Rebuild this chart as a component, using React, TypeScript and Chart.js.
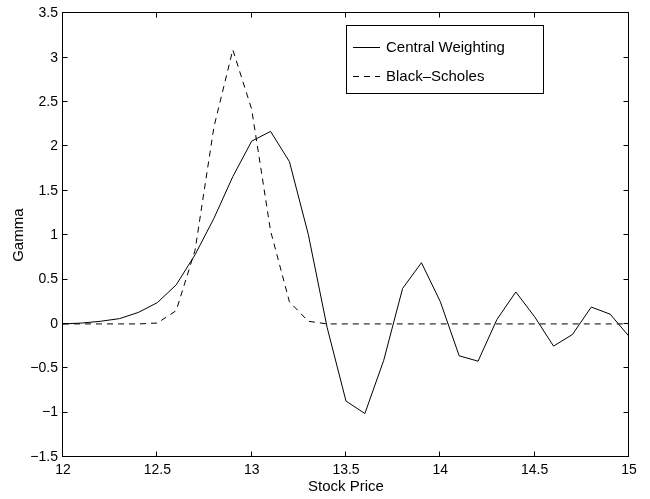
import React, { useEffect, useRef } from "react";
import { Chart, registerables } from "chart.js";

Chart.register(...registerables);

const stockPrices = [
  12.0, 12.1, 12.2, 12.3, 12.4, 12.5, 12.6, 12.7, 12.8, 12.9, 13.0,
  13.1, 13.2, 13.3, 13.4, 13.5, 13.6, 13.7, 13.8, 13.9, 14.0,
  14.1, 14.2, 14.3, 14.4, 14.5, 14.6, 14.7, 14.8, 14.9, 15.0,
];

const centralWeighting = [
  0.0, 0.01, 0.03, 0.06, 0.13, 0.24, 0.44, 0.78, 1.19, 1.66, 2.06,
  2.17, 1.83, 1.01, -0.04, -0.87, -1.01, -0.41, 0.4, 0.69, 0.25,
  -0.36, -0.42, 0.05, 0.36, 0.08, -0.25, -0.12, 0.19, 0.11, -0.14,
];

const blackScholes = [
  0.0, 0.0, 0.0, 0.0, 0.0, 0.01, 0.15, 0.83, 2.22, 3.09, 2.42,
  1.05, 0.25, 0.03, 0.0, 0.0, 0.0, 0.0, 0.0, 0.0, 0.0,
  0.0, 0.0, 0.0, 0.0, 0.0, 0.0, 0.0, 0.0, 0.0, 0.0,
];

const seriesLabels = ["Central Weighting", "Black\u2013Scholes"];
const xTitle = "Stock Price";
const yTitle = "Gamma";

const FONT = "'Liberation Sans', Arial, Helvetica, sans-serif";

const frameAndLegend = {
  id: "frameAndLegend",
  afterDraw(chart: any) {
    const { ctx, chartArea } = chart;
    const xs = chart.scales.x;
    const ys = chart.scales.y;
    const L = Math.round(chartArea.left) - 0.5;
    const R = Math.round(chartArea.right) - 0.5;
    const T = Math.round(chartArea.top) - 0.5;
    const B = Math.round(chartArea.bottom) - 0.5;
    ctx.save();
    ctx.strokeStyle = "#000";
    ctx.lineWidth = 1;
    ctx.setLineDash([]);
    ctx.strokeRect(L, T, R - L, B - T);
    const tl = 5;
    ctx.beginPath();
    xs.ticks.forEach((t: any) => {
      const px = Math.round(xs.getPixelForValue(t.value)) - 0.5;
      ctx.moveTo(px, B);
      ctx.lineTo(px, B - tl);
      ctx.moveTo(px, T);
      ctx.lineTo(px, T + tl);
    });
    ys.ticks.forEach((t: any) => {
      const py = Math.round(ys.getPixelForValue(t.value)) - 0.5;
      ctx.moveTo(L, py);
      ctx.lineTo(L + tl, py);
      ctx.moveTo(R, py);
      ctx.lineTo(R - tl, py);
    });
    ctx.stroke();

    // legend box
    const bx = 346.5, by = 25.5, bw = 197, bh = 68;
    ctx.fillStyle = "#fff";
    ctx.fillRect(bx, by, bw, bh);
    ctx.strokeRect(bx, by, bw, bh);
    const rows = [47.5, 76.5];
    ctx.font = `15px ${FONT}`;
    ctx.textBaseline = "middle";
    ctx.textAlign = "left";
    chart.data.datasets.forEach((ds: any, i: number) => {
      const y = rows[i];
      ctx.beginPath();
      ctx.setLineDash(ds.borderDash || []);
      ctx.strokeStyle = ds.borderColor;
      ctx.lineWidth = ds.borderWidth;
      ctx.moveTo(353, y);
      ctx.lineTo(380, y);
      ctx.stroke();
      ctx.setLineDash([]);
      ctx.fillStyle = "#000";
      ctx.fillText(ds.label, 386, y + 0.5);
    });
    ctx.restore();
  },
};

const fmt = (v: number) => {
  const s = Number.isInteger(v) ? String(v) : v.toFixed(1);
  return s.replace("-", "\u2212");
};

export default function App() {
  const ref = useRef<HTMLCanvasElement | null>(null);

  useEffect(() => {
    if (!ref.current) return;
    const chart = new Chart(ref.current, {
      type: "line",
      data: {
        datasets: [
          {
            label: seriesLabels[0],
            data: stockPrices.map((x, i) => ({ x, y: centralWeighting[i] })),
            borderColor: "#000",
            borderWidth: 1,
            pointRadius: 0,
            fill: false,
            tension: 0,
          },
          {
            label: seriesLabels[1],
            data: stockPrices.map((x, i) => ({ x, y: blackScholes[i] })),
            borderColor: "#000",
            borderWidth: 1,
            borderDash: [6, 5],
            pointRadius: 0,
            fill: false,
            tension: 0,
          },
        ],
      },
      options: {
        responsive: false,
        animation: false,
        devicePixelRatio: 1,
        layout: { padding: { left: 0, right: 21, top: 11, bottom: 0 } },
        plugins: {
          legend: { display: false },
          tooltip: { enabled: false },
        },
        scales: {
          x: {
            type: "linear",
            min: 12,
            max: 15,
            afterFit: (s: any) => {
              s.height = 42;
            },
            grid: { display: false, drawTicks: false },
            border: { display: false },
            ticks: {
              stepSize: 0.5,
              autoSkip: false,
              maxRotation: 0,
              padding: 5,
              color: "#000",
              font: { family: FONT, size: 14 },
              callback: (v: any) => fmt(Number(v)),
            },
            title: {
              display: true,
              text: xTitle,
              color: "#000",
              font: { family: FONT, size: 15 },
              padding: { top: 0, bottom: 3 },
            },
          },
          y: {
            type: "linear",
            min: -1.5,
            max: 3.5,
            afterFit: (s: any) => {
              s.width = 63;
            },
            grid: { display: false, drawTicks: false },
            border: { display: false },
            ticks: {
              stepSize: 0.5,
              autoSkip: false,
              padding: 5,
              color: "#000",
              font: { family: FONT, size: 14 },
              callback: (v: any) => fmt(Number(v)),
            },
            title: {
              display: true,
              text: yTitle,
              color: "#000",
              font: { family: FONT, size: 15 },
              padding: { top: 10, bottom: 0 },
            },
          },
        },
      },
      plugins: [frameAndLegend],
    });
    return () => chart.destroy();
  }, []);

  return (
    <div style={{ position: "fixed", left: 0, top: 0, width: 650, height: 499, background: "#fff" }}>
      <canvas ref={ref} width={650} height={499} style={{ display: "block" }} />
    </div>
  );
}
